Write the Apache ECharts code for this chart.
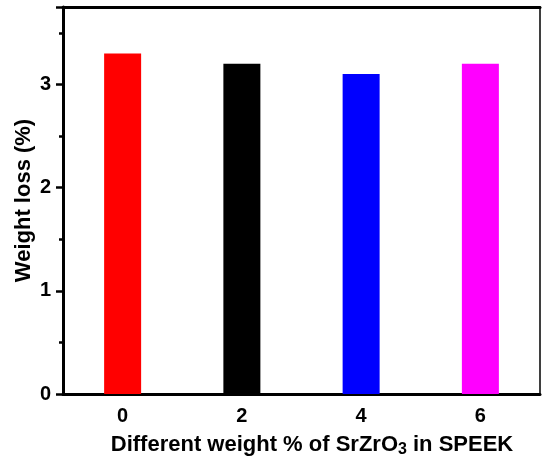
<!DOCTYPE html>
<html><head><meta charset="utf-8">
<script src="https://cdn.jsdelivr.net/npm/echarts@6/dist/echarts.min.js"></script>
<style>html,body{margin:0;padding:0;background:#fff}#c{width:542px;height:456px}</style>
</head><body><div id="c"></div>
<script>
const categories = ['0', '2', '4', '6'];
const weightLoss = [3.3, 3.2, 3.1, 3.2];
const barColors = ['#ff0000', '#000000', '#0000ff', '#ff00ff'];
const yTicks = [0, 1, 2, 3];

const chart = echarts.init(document.getElementById('c'));
const font = 'Liberation Sans, Arial, sans-serif';
chart.setOption({
  animation: false,
  backgroundColor: '#fff',
  grid: { left: 63, right: 2, top: 7, bottom: 62, containLabel: false, outerBoundsMode: 'none',
    show: true, borderColor: '#000', borderWidth: 1.5, backgroundColor: 'transparent' },
  xAxis: [{
    type: 'category', data: categories, position: 'bottom',
    axisLine: { lineStyle: { color: '#000', width: 3 } },
    axisTick: { alignWithLabel: true, length: 6, lineStyle: { color: '#000', width: 3 } },
    axisLabel: { color: '#000', fontSize: 20, fontWeight: 'bold', fontFamily: font, margin: 12 },
    name: '{a|Different weight % of SrZrO}{s|3}{a| in SPEEK}',
    nameLocation: 'middle', nameGap: 38, nameMoveOverlap: false,
    nameTextStyle: { padding: [0, 0, 0, 21], rich: {
      a: { color: '#000', fontSize: 22, fontWeight: 'bold', fontFamily: font },
      s: { color: '#000', fontSize: 16, fontWeight: 'bold', fontFamily: font, verticalAlign: 'bottom', padding: [10, 0, 0, 0] }
    } }
  }, {
    type: 'category', data: categories, position: 'top',
    axisLine: { lineStyle: { color: '#000', width: 3 } },
    axisTick: { show: false }, axisLabel: { show: false }
  }],
  yAxis: {
    type: 'value', min: 0, max: 3.75, interval: 1,
    axisLine: { show: true, lineStyle: { color: '#000', width: 3 } },
    axisTick: { show: true, length: 7, lineStyle: { color: '#000', width: 2.5 } },
    minorTick: { show: true, splitNumber: 2, length: 4, lineStyle: { color: '#000', width: 2.5 } },
    splitLine: { show: false },
    axisLabel: { color: '#000', fontSize: 20, fontWeight: 'bold', fontFamily: font, margin: 12,
      formatter: v => yTicks.includes(v) ? String(v) : '' },
    name: 'Weight loss (%)', nameLocation: 'middle', nameGap: 28, nameMoveOverlap: false,
    nameTextStyle: { color: '#000', fontSize: 22, fontWeight: 'bold', fontFamily: font }
  },
  series: [{
    type: 'bar', barWidth: 37,
    data: weightLoss.map((v, i) => ({ value: v, itemStyle: { color: barColors[i] } }))
  }]
});
</script></body></html>
